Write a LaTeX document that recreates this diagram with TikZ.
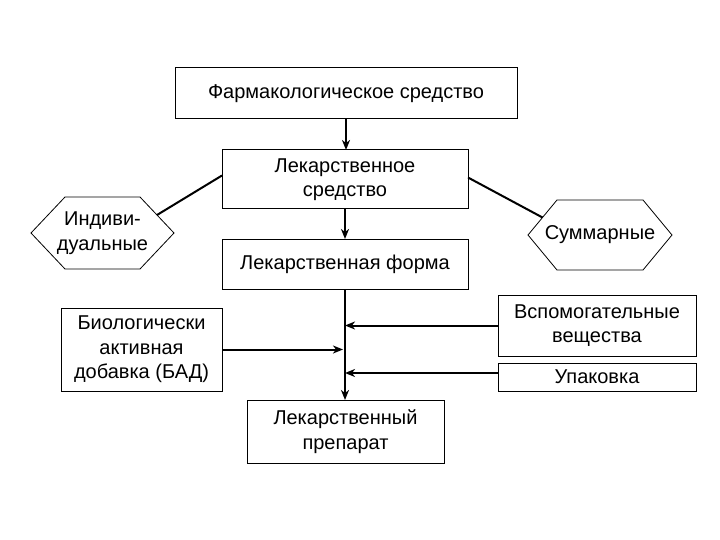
\documentclass[tikz,border=0pt]{standalone}
\usepackage{fontspec}
\setmainfont{Liberation Sans}
\usetikzlibrary{arrows.meta}
\usetikzlibrary{calc}

\tikzset{
  box/.style={draw,line width=1pt,inner sep=0pt,outer sep=0pt,align=center,
    font=\fontsize{20}{24.5}\selectfont},
  hexa/.style={inner sep=0pt,outer sep=0pt,align=center,font=\fontsize{20}{24.5}\selectfont},
  hexline/.style={line width=0.8pt,line join=miter},
  conn/.style={line width=2pt},
  arr/.style={conn,-{Stealth[length=10pt,width=8pt,inset=3pt]}}
}

\begin{document}
\begin{tikzpicture}[x=1pt,y=-1pt]
\useasboundingbox (0,0) rectangle (720,540);
\node[box,minimum width=342,minimum height=51] (farm) at (346,93.5) {Фармакологическое средство};
\node[box,minimum width=246,minimum height=59] (lsred) at (345,179.5) {Лекарственное\\средство};
\node[box,minimum width=246,minimum height=50] (lform) at (345,264) {Лекарственная форма};
\node[box,minimum width=197,minimum height=63] (lprep) at (345.5,431.5) {Лекарственный\\препарат};
\node[box,minimum width=161,minimum height=83] (bad) at (141.5,349.5) {Биологически\\активная\\добавка (БАД)};
\node[box,minimum width=198,minimum height=61] (vsp) at (597,325.5) {Вспомогательные\\вещества};
\node[box,minimum width=198,minimum height=28] (upak) at (597,377) {Упаковка};
\node[hexa,minimum width=143,minimum height=72] (indiv) at (102.5,233) {Индиви-\\дуальные};
\node[hexa,minimum width=144,minimum height=70] (summ) at (600,235) {Суммарные};
\draw[hexline] (indiv.west) -- ([xshift=34pt]indiv.north west) -- ([xshift=-34pt]indiv.north east)
  -- (indiv.east) -- ([xshift=-34pt]indiv.south east) -- ([xshift=34pt]indiv.south west) -- cycle;
\draw[hexline] (summ.west) -- ([xshift=29pt]summ.north west) -- ([xshift=-29pt]summ.north east)
  -- (summ.east) -- ([xshift=-29pt]summ.south east) -- ([xshift=29pt]summ.south west) -- cycle;
\coordinate (indivend) at ($(indiv.east)!0.5!([xshift=-34pt]indiv.north east)$);
\coordinate (summend) at ($(summ.west)!0.5!([xshift=29pt]summ.north west)$);
\draw[arr] (farm.south) -- (farm.south |- lsred.north);
\draw[arr] (lsred.south) -- (lsred.south |- lform.north);
\draw[arr] (lform.south) -- (lform.south |- lprep.north);
\draw[conn] ([yshift=4pt]lsred.west) -- (indivend);
\draw[conn] ([yshift=2pt]lsred.east) -- (summend);
\draw[arr] (bad.east) -- ([xshift=-2pt]bad.east -| lform.south);
\draw[arr] (vsp.west) -- (vsp.west -| lform.south);
\draw[arr] ([yshift=4pt]upak.west) -- ([yshift=4pt]upak.west -| lform.south);
\end{tikzpicture}
\end{document}
